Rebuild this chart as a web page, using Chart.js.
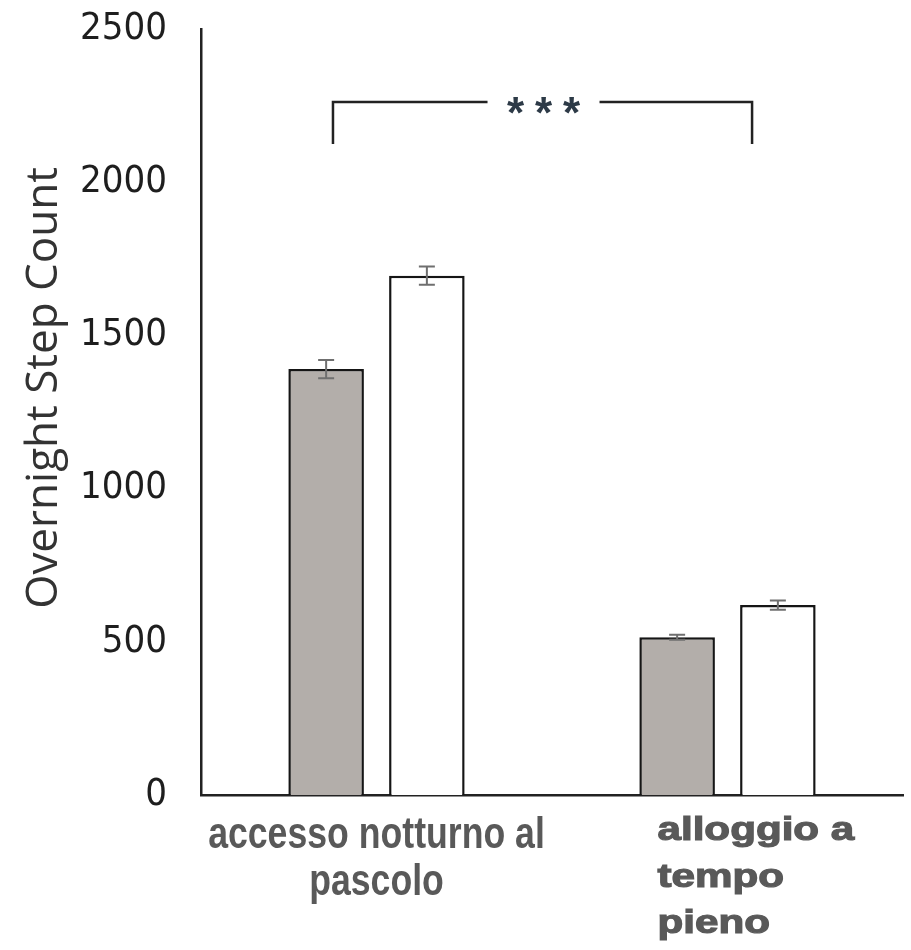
<!DOCTYPE html>
<html lang="it">
<head>
<meta charset="UTF-8" />
<title>Overnight Step Count</title>
<script src="https://cdn.jsdelivr.net/npm/chart.js"></script>
<style>
  body { margin: 0; background: #fff; }
  #wrap { width: 911px; height: 950px; }
</style>
</head>
<body>
<div id="wrap"><canvas id="stepChart"></canvas></div>
<script>
  // values
  const categories = [
    ["accesso notturno al", "pascolo"],
    ["alloggio a", "tempo", "pieno"]
  ];
  const grayValues = [1390, 515];
  const grayErrors = [30, 8];
  const whiteValues = [1695, 620];
  const whiteErrors = [30, 15];
  const yTicks = [0, 500, 1000, 1500, 2000, 2500];
  const yTitle = "Overnight Step Count";
  const sigLabel = ["*", "*", "*"];

  const errors = [grayErrors, whiteErrors];

  // error bars on top of each bar
  const errorBars = {
    id: "errorBars",
    afterDatasetsDraw(chart) {
      const ctx = chart.ctx;
      const y = chart.scales.y;
      ctx.save();
      ctx.strokeStyle = "#6f6f6f";
      ctx.lineWidth = 2;
      chart.data.datasets.forEach((ds, i) => {
        chart.getDatasetMeta(i).data.forEach((bar, j) => {
          const v = ds.data[j], e = errors[i][j];
          const top = y.getPixelForValue(v + e);
          const bot = y.getPixelForValue(v - e);
          ctx.beginPath();
          ctx.moveTo(bar.x, top); ctx.lineTo(bar.x, bot);
          ctx.moveTo(bar.x - 8, top); ctx.lineTo(bar.x + 8, top);
          ctx.moveTo(bar.x - 8, bot); ctx.lineTo(bar.x + 8, bot);
          ctx.stroke();
        });
      });
      ctx.restore();
    }
  };

  // x labels, axis title and the significance bracket
  const extras = {
    id: "extras",
    afterDraw(chart) {
      const ctx = chart.ctx;
      const x = chart.scales.x, y = chart.scales.y;
      const area = chart.chartArea;
      ctx.save();

      // y title
      ctx.fillStyle = "#333";
      ctx.font = '44px "Open Sans"';
      ctx.textAlign = "center";
      ctx.textBaseline = "middle";
      ctx.translate(44, (area.top + area.bottom) / 2 - 24);
      ctx.rotate(-Math.PI / 2);
      ctx.fillText(yTitle, 0, 0);
      ctx.setTransform(1, 0, 0, 1, 0, 0);

      // category labels
      ctx.fillStyle = "#595959";
      ctx.strokeStyle = "#595959";
      ctx.textBaseline = "alphabetic";
      const c0 = x.getPixelForValue(0);
      ctx.font = 'bold 44px "Liberation Sans"';
      ctx.textAlign = "center";
      categories[0].forEach((line, k) => {
        ctx.save();
        ctx.translate(c0, area.bottom + 53 + k * 47);
        ctx.scale(0.81, 1);
        ctx.fillText(line, 0, 0);
        ctx.restore();
      });
      const c1 = x.getPixelForValue(1);
      ctx.font = 'bold 34px "Liberation Sans"';
      ctx.textAlign = "left";
      ctx.lineWidth = 1.2;
      categories[1].forEach((line, k) => {
        ctx.save();
        ctx.translate(c1 - 70, area.bottom + 45 + k * 46.5);
        ctx.scale(1.24, 1);
        ctx.fillText(line, 0, 0);
        ctx.strokeText(line, 0, 0);
        ctx.restore();
      });

      // bracket
      const xl = x.getPixelForValue(-0.124);
      const xr = x.getPixelForValue(1.07);
      const yt = y.getPixelForValue(2262);
      const yb = y.getPixelForValue(2125);
      const mid = (xl + xr) / 2 + 1;
      ctx.strokeStyle = "#222";
      ctx.lineWidth = 2.5;
      ctx.beginPath();
      ctx.moveTo(xl, yb); ctx.lineTo(xl, yt); ctx.lineTo(mid - 56, yt);
      ctx.moveTo(mid + 56, yt); ctx.lineTo(xr, yt); ctx.lineTo(xr, yb);
      ctx.stroke();

      ctx.fillStyle = "#2d3a47";
      ctx.font = 'bold 44px "Liberation Sans"';
      ctx.textAlign = "center";
      sigLabel.forEach((s, k) => {
        ctx.fillText(s, mid + (k - 1) * 28, yt + 26);
      });
      ctx.restore();
    }
  };

  new Chart(document.getElementById("stepChart"), {
    type: "bar",
    data: {
      labels: categories.map(c => c.join(" ")),
      datasets: [
        {
          label: "gray",
          data: grayValues,
          backgroundColor: "#b3aeaa",
          borderColor: "#151515",
          borderWidth: 2.5
        },
        {
          label: "white",
          data: whiteValues,
          backgroundColor: "#ffffff",
          borderColor: "#151515",
          borderWidth: 2.5
        }
      ]
    },
    options: {
      responsive: true,
      maintainAspectRatio: false,
      animation: false,
      categoryPercentage: 0.574,
      barPercentage: 0.75,
      layout: { padding: { top: 29, right: 8, left: 0, bottom: 0 } },
      plugins: { legend: { display: false }, tooltip: { enabled: false } },
      scales: {
        x: {
          grid: { display: false },
          border: { display: true, color: "#222", width: 2.5 },
          ticks: { display: false },
          afterFit(scale) { scale.height = 155; }
        },
        y: {
          min: 0,
          max: 2500,
          afterBuildTicks(scale) { scale.ticks = yTicks.map(v => ({ value: v })); },
          grid: { display: false, drawTicks: false },
          border: { display: true, color: "#222", width: 2.5 },
          ticks: {
            padding: 34,
            color: "#1e1e1e",
            callback: v => String(v),
            font: { family: '"Liberation Sans Narrow", "DejaVu Sans Condensed", sans-serif', size: 38 }
          },
          afterFit(scale) {
            scale.width = 201;
            scale.paddingTop = 0;
            scale.paddingBottom = 0;
          }
        }
      }
    },
    plugins: [errorBars, extras]
  });
</script>
</body>
</html>
